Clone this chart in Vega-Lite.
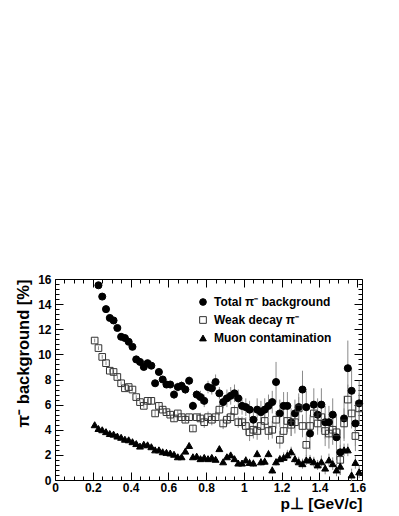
{
"$schema": "https://vega.github.io/schema/vega-lite/v6.json",
"width": 307, "height": 201,
"autosize": {"type": "none"},
"padding": {"left": 55, "top": 279, "right": 37, "bottom": 36},
"datasets": {
"total": [
{"pt":0.23,"v":15.5,"err":0.15},{"pt":0.25,"v":14.6,"err":0.15},{"pt":0.27,"v":13.6,"err":0.15},{"pt":0.29,"v":12.9,"err":0.15},{"pt":0.31,"v":12.7,"err":0.15},{"pt":0.33,"v":12.1,"err":0.15},{"pt":0.35,"v":11.4,"err":0.15},{"pt":0.37,"v":11.3,"err":0.15},{"pt":0.39,"v":11.0,"err":0.15},{"pt":0.41,"v":10.6,"err":0.15},{"pt":0.43,"v":9.6,"err":0.15},{"pt":0.45,"v":9.4,"err":0.15},{"pt":0.47,"v":9.0,"err":0.25},{"pt":0.49,"v":9.3,"err":0.25},{"pt":0.51,"v":9.1,"err":0.25},{"pt":0.53,"v":7.7,"err":0.25},{"pt":0.55,"v":8.6,"err":0.25},{"pt":0.57,"v":8.0,"err":0.25},{"pt":0.59,"v":7.6,"err":0.25},{"pt":0.61,"v":7.6,"err":0.25},{"pt":0.63,"v":6.8,"err":0.35},{"pt":0.65,"v":7.4,"err":0.35},{"pt":0.67,"v":7.5,"err":0.35},{"pt":0.69,"v":7.2,"err":0.35},{"pt":0.71,"v":7.9,"err":0.35},{"pt":0.73,"v":5.9,"err":0.35},{"pt":0.75,"v":6.8,"err":0.35},{"pt":0.77,"v":6.6,"err":0.5},{"pt":0.79,"v":6.3,"err":0.5},{"pt":0.81,"v":7.4,"err":0.5},{"pt":0.83,"v":7.3,"err":0.5},{"pt":0.85,"v":7.8,"err":0.6},{"pt":0.87,"v":6.9,"err":0.5},{"pt":0.89,"v":6.2,"err":0.5},{"pt":0.91,"v":6.5,"err":0.7},{"pt":0.93,"v":6.7,"err":0.7},{"pt":0.95,"v":6.9,"err":0.7},{"pt":0.97,"v":6.5,"err":0.7},{"pt":0.99,"v":5.9,"err":0.7},{"pt":1.01,"v":5.8,"err":0.7},{"pt":1.03,"v":5.6,"err":0.7},{"pt":1.05,"v":4.8,"err":0.9},{"pt":1.07,"v":5.6,"err":0.9},{"pt":1.09,"v":5.4,"err":0.9},{"pt":1.11,"v":5.6,"err":0.9},{"pt":1.13,"v":5.9,"err":0.9},{"pt":1.15,"v":6.2,"err":0.9},{"pt":1.17,"v":7.8,"err":1.6},{"pt":1.19,"v":5.3,"err":1.1},{"pt":1.21,"v":5.9,"err":1.1},{"pt":1.23,"v":5.9,"err":1.1},{"pt":1.25,"v":4.6,"err":1.1},{"pt":1.27,"v":5.3,"err":1.1},{"pt":1.29,"v":5.8,"err":1.1},{"pt":1.31,"v":7.2,"err":1.5},{"pt":1.33,"v":5.8,"err":1.3},{"pt":1.35,"v":3.7,"err":1.3},{"pt":1.37,"v":6.0,"err":1.3},{"pt":1.39,"v":5.2,"err":1.3},{"pt":1.41,"v":6.0,"err":1.3},{"pt":1.43,"v":4.6,"err":1.3},{"pt":1.45,"v":4.6,"err":1.3},{"pt":1.47,"v":5.2,"err":1.3},{"pt":1.49,"v":3.4,"err":1.8},{"pt":1.51,"v":2.2,"err":1.8},{"pt":1.53,"v":4.9,"err":1.8},{"pt":1.55,"v":8.9,"err":2.2},{"pt":1.57,"v":7.1,"err":1.8},{"pt":1.59,"v":4.5,"err":1.8},{"pt":1.61,"v":6.1,"err":1.8}
],
"weak": [
{"pt":0.21,"v":11.1,"err":0.15},{"pt":0.23,"v":10.5,"err":0.15},{"pt":0.25,"v":9.8,"err":0.15},{"pt":0.27,"v":9.3,"err":0.15},{"pt":0.29,"v":8.7,"err":0.15},{"pt":0.31,"v":8.6,"err":0.15},{"pt":0.33,"v":8.2,"err":0.15},{"pt":0.35,"v":7.7,"err":0.15},{"pt":0.37,"v":7.3,"err":0.15},{"pt":0.39,"v":7.4,"err":0.15},{"pt":0.41,"v":7.2,"err":0.15},{"pt":0.43,"v":6.6,"err":0.15},{"pt":0.45,"v":6.2,"err":0.15},{"pt":0.47,"v":5.9,"err":0.15},{"pt":0.49,"v":6.3,"err":0.15},{"pt":0.51,"v":6.3,"err":0.25},{"pt":0.53,"v":5.3,"err":0.25},{"pt":0.55,"v":5.9,"err":0.25},{"pt":0.57,"v":5.6,"err":0.25},{"pt":0.59,"v":5.4,"err":0.25},{"pt":0.61,"v":5.2,"err":0.25},{"pt":0.63,"v":4.9,"err":0.25},{"pt":0.65,"v":5.3,"err":0.25},{"pt":0.67,"v":5.0,"err":0.25},{"pt":0.69,"v":4.8,"err":0.25},{"pt":0.71,"v":5.0,"err":0.25},{"pt":0.73,"v":4.1,"err":0.25},{"pt":0.75,"v":5.0,"err":0.25},{"pt":0.77,"v":4.9,"err":0.45},{"pt":0.79,"v":4.6,"err":0.45},{"pt":0.81,"v":5.0,"err":0.45},{"pt":0.83,"v":4.8,"err":0.45},{"pt":0.85,"v":5.0,"err":0.45},{"pt":0.87,"v":5.6,"err":0.45},{"pt":0.89,"v":4.5,"err":0.45},{"pt":0.91,"v":4.8,"err":0.45},{"pt":0.93,"v":5.0,"err":0.45},{"pt":0.95,"v":5.5,"err":0.45},{"pt":0.97,"v":4.6,"err":0.45},{"pt":0.99,"v":4.6,"err":0.45},{"pt":1.01,"v":4.3,"err":0.7},{"pt":1.03,"v":3.8,"err":0.7},{"pt":1.05,"v":4.0,"err":0.7},{"pt":1.07,"v":3.9,"err":0.7},{"pt":1.09,"v":4.3,"err":0.7},{"pt":1.11,"v":4.7,"err":0.7},{"pt":1.13,"v":3.9,"err":0.7},{"pt":1.15,"v":4.0,"err":0.7},{"pt":1.17,"v":4.8,"err":0.7},{"pt":1.19,"v":3.2,"err":0.7},{"pt":1.21,"v":3.9,"err":0.9},{"pt":1.23,"v":4.7,"err":0.9},{"pt":1.25,"v":4.4,"err":0.9},{"pt":1.27,"v":4.6,"err":0.9},{"pt":1.29,"v":5.7,"err":0.9},{"pt":1.31,"v":4.3,"err":0.9},{"pt":1.33,"v":2.8,"err":0.9},{"pt":1.35,"v":4.3,"err":0.9},{"pt":1.37,"v":5.3,"err":0.9},{"pt":1.39,"v":4.5,"err":0.9},{"pt":1.41,"v":5.0,"err":1.2},{"pt":1.43,"v":3.9,"err":1.2},{"pt":1.45,"v":3.7,"err":1.2},{"pt":1.47,"v":4.0,"err":1.2},{"pt":1.49,"v":3.8,"err":1.2},{"pt":1.51,"v":1.6,"err":1.2},{"pt":1.53,"v":4.5,"err":1.2},{"pt":1.55,"v":6.4,"err":1.2},{"pt":1.57,"v":5.3,"err":1.2},{"pt":1.59,"v":3.5,"err":1.2},{"pt":1.61,"v":5.7,"err":1.2}
],
"muon": [
{"pt":0.21,"v":4.4,"err":0.1},{"pt":0.23,"v":4.1,"err":0.1},{"pt":0.25,"v":4.0,"err":0.1},{"pt":0.27,"v":3.85,"err":0.1},{"pt":0.29,"v":3.7,"err":0.1},{"pt":0.31,"v":3.65,"err":0.1},{"pt":0.33,"v":3.5,"err":0.1},{"pt":0.35,"v":3.4,"err":0.1},{"pt":0.37,"v":3.25,"err":0.1},{"pt":0.39,"v":3.2,"err":0.1},{"pt":0.41,"v":3.05,"err":0.1},{"pt":0.43,"v":2.9,"err":0.1},{"pt":0.45,"v":2.7,"err":0.1},{"pt":0.47,"v":2.85,"err":0.1},{"pt":0.49,"v":2.8,"err":0.1},{"pt":0.51,"v":2.65,"err":0.1},{"pt":0.53,"v":2.4,"err":0.1},{"pt":0.55,"v":2.4,"err":0.1},{"pt":0.57,"v":2.25,"err":0.1},{"pt":0.59,"v":2.2,"err":0.1},{"pt":0.61,"v":2.15,"err":0.1},{"pt":0.63,"v":2.05,"err":0.1},{"pt":0.65,"v":1.85,"err":0.15},{"pt":0.67,"v":1.85,"err":0.15},{"pt":0.69,"v":2.3,"err":0.15},{"pt":0.71,"v":2.75,"err":0.15},{"pt":0.73,"v":1.85,"err":0.15},{"pt":0.75,"v":1.9,"err":0.15},{"pt":0.77,"v":1.7,"err":0.2},{"pt":0.79,"v":1.8,"err":0.2},{"pt":0.81,"v":1.7,"err":0.2},{"pt":0.83,"v":1.8,"err":0.2},{"pt":0.85,"v":1.65,"err":0.2},{"pt":0.87,"v":2.5,"err":0.2},{"pt":0.89,"v":1.45,"err":0.2},{"pt":0.91,"v":1.85,"err":0.2},{"pt":0.93,"v":2.0,"err":0.2},{"pt":0.95,"v":1.7,"err":0.2},{"pt":0.97,"v":1.35,"err":0.2},{"pt":0.99,"v":1.35,"err":0.2},{"pt":1.01,"v":1.6,"err":0.3},{"pt":1.03,"v":1.4,"err":0.3},{"pt":1.05,"v":1.35,"err":0.3},{"pt":1.07,"v":2.1,"err":0.3},{"pt":1.09,"v":1.45,"err":0.3},{"pt":1.11,"v":1.5,"err":0.3},{"pt":1.13,"v":2.1,"err":0.3},{"pt":1.15,"v":0.8,"err":0.3},{"pt":1.17,"v":1.45,"err":0.3},{"pt":1.19,"v":1.7,"err":0.3},{"pt":1.21,"v":1.8,"err":0.4},{"pt":1.23,"v":2.0,"err":0.4},{"pt":1.25,"v":2.25,"err":0.4},{"pt":1.27,"v":1.7,"err":0.4},{"pt":1.29,"v":1.45,"err":0.4},{"pt":1.31,"v":1.3,"err":0.4},{"pt":1.33,"v":1.6,"err":0.4},{"pt":1.35,"v":1.6,"err":0.4},{"pt":1.37,"v":1.45,"err":0.4},{"pt":1.39,"v":1.2,"err":0.4},{"pt":1.41,"v":1.45,"err":0.5},{"pt":1.43,"v":0.95,"err":0.5},{"pt":1.45,"v":1.6,"err":0.5},{"pt":1.47,"v":1.3,"err":0.5},{"pt":1.49,"v":0.8,"err":0.5},{"pt":1.51,"v":1.1,"err":0.5},{"pt":1.53,"v":2.4,"err":0.5},{"pt":1.55,"v":2.4,"err":0.5},{"pt":1.57,"v":0.4,"err":0.5},{"pt":1.59,"v":1.4,"err":0.5},{"pt":1.61,"v":0.65,"err":0.5}
]
},
"layer": [
{
 "data": {"name": "total"},
 "mark": {"type": "errorbar", "color": "#8a8a8a", "thickness": 1},
 "encoding": {
  "x": {"field": "pt", "type": "quantitative", "scale": {"domain": [0, 1.625], "nice": false, "zero": false}, "axis": null},
  "y": {"field": "v", "type": "quantitative", "scale": {"domain": [0, 16], "nice": false}, "axis": null},
  "yError": {"field": "err"}
 }
},
{
 "data": {"name": "weak"},
 "mark": {"type": "errorbar", "color": "#8a8a8a", "thickness": 1},
 "encoding": {
  "x": {"field": "pt", "type": "quantitative", "axis": null},
  "y": {"field": "v", "type": "quantitative", "axis": null},
  "yError": {"field": "err"}
 }
},
{
 "data": {"name": "muon"},
 "mark": {"type": "errorbar", "color": "#8a8a8a", "thickness": 1},
 "encoding": {
  "x": {"field": "pt", "type": "quantitative", "axis": null},
  "y": {"field": "v", "type": "quantitative", "axis": null},
  "yError": {"field": "err"}
 }
},
{
 "data": {"name": "total"},
 "transform": [{"calculate": "'Total π⁻ background'", "as": "s"}],
 "mark": {"type": "point", "filled": true, "size": 50, "strokeWidth": 1, "opacity": 1},
 "encoding": {
  "x": {"field": "pt", "type": "quantitative", "axis": null},
  "y": {"field": "v", "type": "quantitative", "axis": null},
  "shape": {"field": "s", "type": "nominal", "scale": {"domain": ["Total π⁻ background", "Weak decay π⁻", "Muon contamination"], "range": ["circle", "square", "triangle-up"]}, "legend": {"orient": "none", "legendX": 142, "legendY": 17, "title": null}},
  "fill": {"field": "s", "type": "nominal", "scale": {"domain": ["Total π⁻ background", "Weak decay π⁻", "Muon contamination"], "range": ["black", "transparent", "black"]}, "legend": {"orient": "none", "legendX": 142, "legendY": 17, "title": null}},
  "stroke": {"field": "s", "type": "nominal", "scale": {"domain": ["Total π⁻ background", "Weak decay π⁻", "Muon contamination"], "range": ["black", "#333333", "black"]}, "legend": {"orient": "none", "legendX": 142, "legendY": 17, "title": null}}
 }
},
{
 "data": {"name": "weak"},
 "transform": [{"calculate": "'Weak decay π⁻'", "as": "s"}],
 "mark": {"type": "point", "filled": true, "size": 44, "strokeWidth": 1, "opacity": 1},
 "encoding": {
  "x": {"field": "pt", "type": "quantitative", "axis": null},
  "y": {"field": "v", "type": "quantitative", "axis": null},
  "shape": {"field": "s", "type": "nominal"},
  "fill": {"field": "s", "type": "nominal"},
  "stroke": {"field": "s", "type": "nominal"}
 }
},
{
 "data": {"name": "muon"},
 "transform": [{"calculate": "'Muon contamination'", "as": "s"}],
 "mark": {"type": "point", "filled": true, "size": 48, "strokeWidth": 1, "opacity": 1},
 "encoding": {
  "x": {"field": "pt", "type": "quantitative", "axis": null},
  "y": {"field": "v", "type": "quantitative", "axis": null},
  "shape": {"field": "s", "type": "nominal"},
  "fill": {"field": "s", "type": "nominal"},
  "stroke": {"field": "s", "type": "nominal"}
 }
},
{
 "data": {"name": "muon"},
 "mark": {"type": "point", "opacity": 0},
 "encoding": {
  "x": {"field": "pt", "type": "quantitative", "axis": {"orient": "bottom", "values": [0, 0.2, 0.4, 0.6, 0.8, 1, 1.2, 1.4, 1.6], "format": "~g", "tickSize": -8, "labelPadding": 10, "labelFlush": false, "title": "p⊥ [GeV/c]", "titleAnchor": "end", "titleFontSize": 15.5, "titlePadding": 3}},
  "y": {"field": "v", "type": "quantitative", "axis": {"orient": "left", "values": [0, 2, 4, 6, 8, 10, 12, 14, 16], "tickSize": -8, "labelPadding": 12, "labelFlush": false, "title": "π⁻ background [%]", "titleAnchor": "end", "titleFontSize": 16.5, "titlePadding": 6}}
 }
},
{
 "data": {"name": "muon"},
 "mark": {"type": "point", "opacity": 0},
 "encoding": {
  "x": {"field": "pt", "type": "quantitative", "axis": {"orient": "bottom", "values": [0.05,0.1,0.15,0.25,0.3,0.35,0.45,0.5,0.55,0.65,0.7,0.75,0.85,0.9,0.95,1.05,1.1,1.15,1.25,1.3,1.35,1.45,1.5,1.55], "tickSize": -4, "labels": false, "title": null}},
  "y": {"field": "v", "type": "quantitative", "axis": {"orient": "left", "values": [0.4,0.8,1.2,1.6,2.4,2.8,3.2,3.6,4.4,4.8,5.2,5.6,6.4,6.8,7.2,7.6,8.4,8.8,9.2,9.6,10.4,10.8,11.2,11.6,12.4,12.8,13.2,13.6,14.4,14.8,15.2,15.6], "tickSize": -4, "labels": false, "title": null}}
 }
},
{
 "data": {"name": "muon"},
 "mark": {"type": "point", "opacity": 0},
 "encoding": {
  "x": {"field": "pt", "type": "quantitative", "axis": {"orient": "top", "values": [0, 0.2, 0.4, 0.6, 0.8, 1, 1.2, 1.4, 1.6], "tickSize": -8, "labels": false, "title": null}},
  "y": {"field": "v", "type": "quantitative", "axis": {"orient": "right", "values": [0, 2, 4, 6, 8, 10, 12, 14, 16], "tickSize": -8, "labels": false, "title": null}}
 }
},
{
 "data": {"name": "muon"},
 "mark": {"type": "point", "opacity": 0},
 "encoding": {
  "x": {"field": "pt", "type": "quantitative", "axis": {"orient": "top", "values": [0.05,0.1,0.15,0.25,0.3,0.35,0.45,0.5,0.55,0.65,0.7,0.75,0.85,0.9,0.95,1.05,1.1,1.15,1.25,1.3,1.35,1.45,1.5,1.55], "tickSize": -4, "labels": false, "title": null}},
  "y": {"field": "v", "type": "quantitative", "axis": {"orient": "right", "values": [0.4,0.8,1.2,1.6,2.4,2.8,3.2,3.6,4.4,4.8,5.2,5.6,6.4,6.8,7.2,7.6,8.4,8.8,9.2,9.6,10.4,10.8,11.2,11.6,12.4,12.8,13.2,13.6,14.4,14.8,15.2,15.6], "tickSize": -4, "labels": false, "title": null}}
 }
}
],
"resolve": {"axis": {"x": "independent", "y": "independent"}},
"config": {
 "font": "Liberation Sans",
 "view": {"stroke": "black", "strokeWidth": 1},
 "axis": {"domain": false, "grid": false, "tickColor": "black", "tickWidth": 1, "labelFont": "Liberation Sans", "labelFontWeight": "bold", "labelFontSize": 12, "labelColor": "black", "titleFont": "Liberation Sans", "titleFontWeight": "bold", "titleColor": "black"},
 "legend": {"labelFont": "Liberation Sans", "labelFontWeight": "bold", "labelFontSize": 12, "labelColor": "black", "symbolSize": 45, "rowPadding": 6, "labelOffset": 5, "padding": 0, "symbolStrokeWidth": 1}
}
}
